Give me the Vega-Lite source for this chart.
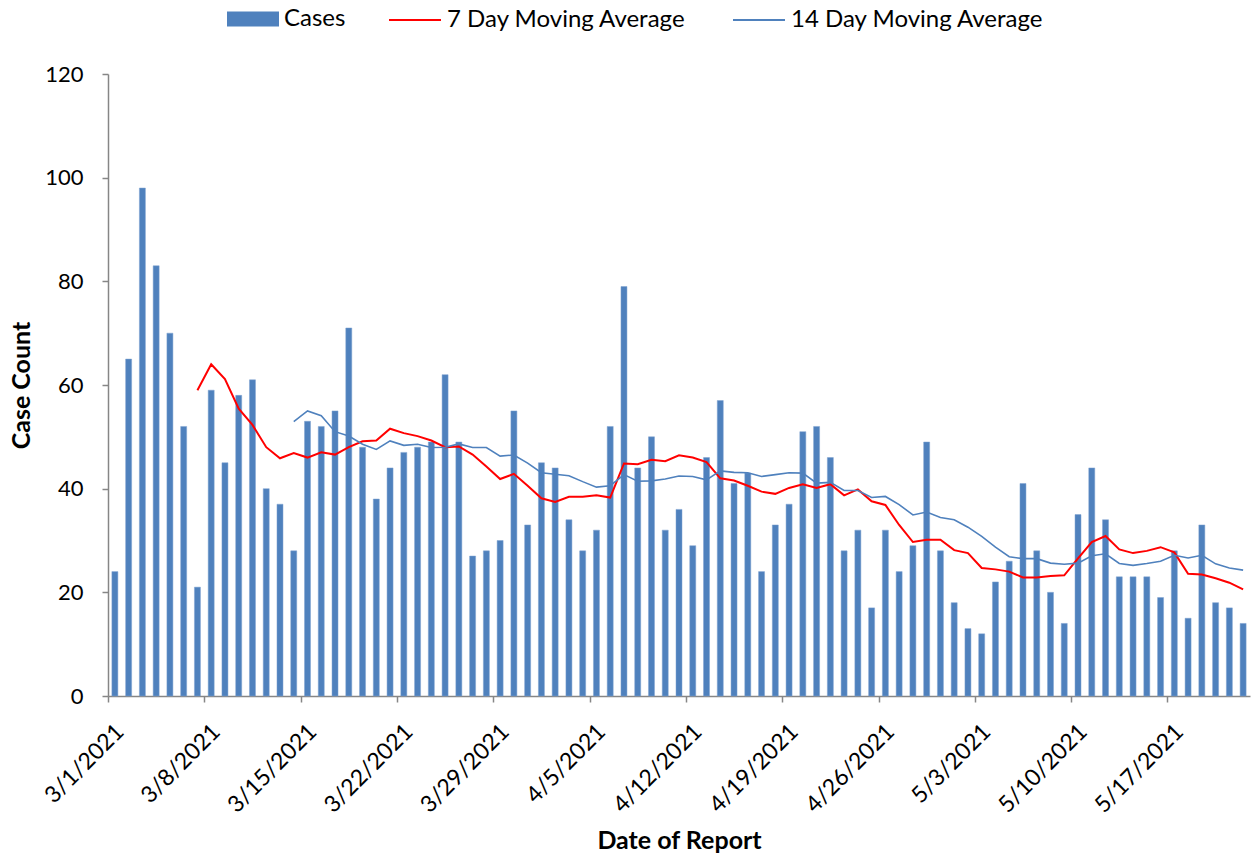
{
  "$schema": "https://vega.github.io/schema/vega-lite/v6.json",
  "width": 1142,
  "height": 622,
  "autosize": {"type": "none"},
  "padding": {"left": 108, "top": 74, "right": 4, "bottom": 163},
  "background": "white",
  "config": {
    "view": {"stroke": null},
    "font": "Lato",
    "axis": {"labelFont": "Lato", "titleFont": "Lato", "labelColor": "#000000", "titleColor": "#000000", "domainColor": "#868686", "tickColor": "#868686", "domainWidth": 1.5, "tickWidth": 1.5, "grid": false},
    "legend": {"labelFont": "Lato", "labelFontSize": 24, "labelColor": "#000000", "labelLimit": 500, "labelOffset": 5, "title": null}
  },
  "data": {
    "values": [
      {"date": "2021-03-01", "cases": 24, "ma7": null, "ma14": null},
      {"date": "2021-03-02", "cases": 65, "ma7": null, "ma14": null},
      {"date": "2021-03-03", "cases": 98, "ma7": null, "ma14": null},
      {"date": "2021-03-04", "cases": 83, "ma7": null, "ma14": null},
      {"date": "2021-03-05", "cases": 70, "ma7": null, "ma14": null},
      {"date": "2021-03-06", "cases": 52, "ma7": null, "ma14": null},
      {"date": "2021-03-07", "cases": 21, "ma7": 59.0, "ma14": null},
      {"date": "2021-03-08", "cases": 59, "ma7": 64.0, "ma14": null},
      {"date": "2021-03-09", "cases": 45, "ma7": 61.14, "ma14": null},
      {"date": "2021-03-10", "cases": 58, "ma7": 55.43, "ma14": null},
      {"date": "2021-03-11", "cases": 61, "ma7": 52.29, "ma14": null},
      {"date": "2021-03-12", "cases": 40, "ma7": 48.0, "ma14": null},
      {"date": "2021-03-13", "cases": 37, "ma7": 45.86, "ma14": null},
      {"date": "2021-03-14", "cases": 28, "ma7": 46.86, "ma14": 52.93},
      {"date": "2021-03-15", "cases": 53, "ma7": 46.0, "ma14": 55.0},
      {"date": "2021-03-16", "cases": 52, "ma7": 47.0, "ma14": 54.07},
      {"date": "2021-03-17", "cases": 55, "ma7": 46.57, "ma14": 51.0},
      {"date": "2021-03-18", "cases": 71, "ma7": 48.0, "ma14": 50.14},
      {"date": "2021-03-19", "cases": 48, "ma7": 49.14, "ma14": 48.57},
      {"date": "2021-03-20", "cases": 38, "ma7": 49.29, "ma14": 47.57},
      {"date": "2021-03-21", "cases": 44, "ma7": 51.57, "ma14": 49.21},
      {"date": "2021-03-22", "cases": 47, "ma7": 50.71, "ma14": 48.36},
      {"date": "2021-03-23", "cases": 48, "ma7": 50.14, "ma14": 48.57},
      {"date": "2021-03-24", "cases": 49, "ma7": 49.29, "ma14": 47.93},
      {"date": "2021-03-25", "cases": 62, "ma7": 48.0, "ma14": 48.0},
      {"date": "2021-03-26", "cases": 49, "ma7": 48.14, "ma14": 48.64},
      {"date": "2021-03-27", "cases": 27, "ma7": 46.57, "ma14": 47.93},
      {"date": "2021-03-28", "cases": 28, "ma7": 44.29, "ma14": 47.93},
      {"date": "2021-03-29", "cases": 30, "ma7": 41.86, "ma14": 46.29},
      {"date": "2021-03-30", "cases": 55, "ma7": 42.86, "ma14": 46.5},
      {"date": "2021-03-31", "cases": 33, "ma7": 40.57, "ma14": 44.93},
      {"date": "2021-04-01", "cases": 45, "ma7": 38.14, "ma14": 43.07},
      {"date": "2021-04-02", "cases": 44, "ma7": 37.43, "ma14": 42.79},
      {"date": "2021-04-03", "cases": 34, "ma7": 38.43, "ma14": 42.5},
      {"date": "2021-04-04", "cases": 28, "ma7": 38.43, "ma14": 41.36},
      {"date": "2021-04-05", "cases": 32, "ma7": 38.71, "ma14": 40.29},
      {"date": "2021-04-06", "cases": 52, "ma7": 38.29, "ma14": 40.57},
      {"date": "2021-04-07", "cases": 79, "ma7": 44.86, "ma14": 42.71},
      {"date": "2021-04-08", "cases": 44, "ma7": 44.71, "ma14": 41.43},
      {"date": "2021-04-09", "cases": 50, "ma7": 45.57, "ma14": 41.5},
      {"date": "2021-04-10", "cases": 32, "ma7": 45.29, "ma14": 41.86},
      {"date": "2021-04-11", "cases": 36, "ma7": 46.43, "ma14": 42.43},
      {"date": "2021-04-12", "cases": 29, "ma7": 46.0, "ma14": 42.36},
      {"date": "2021-04-13", "cases": 46, "ma7": 45.14, "ma14": 41.71},
      {"date": "2021-04-14", "cases": 57, "ma7": 42.0, "ma14": 43.43},
      {"date": "2021-04-15", "cases": 41, "ma7": 41.57, "ma14": 43.14},
      {"date": "2021-04-16", "cases": 43, "ma7": 40.57, "ma14": 43.07},
      {"date": "2021-04-17", "cases": 24, "ma7": 39.43, "ma14": 42.36},
      {"date": "2021-04-18", "cases": 33, "ma7": 39.0, "ma14": 42.71},
      {"date": "2021-04-19", "cases": 37, "ma7": 40.14, "ma14": 43.07},
      {"date": "2021-04-20", "cases": 51, "ma7": 40.86, "ma14": 43.0},
      {"date": "2021-04-21", "cases": 52, "ma7": 40.14, "ma14": 41.07},
      {"date": "2021-04-22", "cases": 46, "ma7": 40.86, "ma14": 41.21},
      {"date": "2021-04-23", "cases": 28, "ma7": 38.71, "ma14": 39.64},
      {"date": "2021-04-24", "cases": 32, "ma7": 39.86, "ma14": 39.64},
      {"date": "2021-04-25", "cases": 17, "ma7": 37.57, "ma14": 38.29},
      {"date": "2021-04-26", "cases": 32, "ma7": 36.86, "ma14": 38.5},
      {"date": "2021-04-27", "cases": 24, "ma7": 33.0, "ma14": 36.93},
      {"date": "2021-04-28", "cases": 29, "ma7": 29.71, "ma14": 34.93},
      {"date": "2021-04-29", "cases": 49, "ma7": 30.14, "ma14": 35.5},
      {"date": "2021-04-30", "cases": 28, "ma7": 30.14, "ma14": 34.43},
      {"date": "2021-05-01", "cases": 18, "ma7": 28.14, "ma14": 34.0},
      {"date": "2021-05-02", "cases": 13, "ma7": 27.57, "ma14": 32.57},
      {"date": "2021-05-03", "cases": 12, "ma7": 24.71, "ma14": 30.79},
      {"date": "2021-05-04", "cases": 22, "ma7": 24.43, "ma14": 28.71},
      {"date": "2021-05-05", "cases": 26, "ma7": 24.0, "ma14": 26.86},
      {"date": "2021-05-06", "cases": 41, "ma7": 22.86, "ma14": 26.5},
      {"date": "2021-05-07", "cases": 28, "ma7": 22.86, "ma14": 26.5},
      {"date": "2021-05-08", "cases": 20, "ma7": 23.14, "ma14": 25.64},
      {"date": "2021-05-09", "cases": 14, "ma7": 23.29, "ma14": 25.43},
      {"date": "2021-05-10", "cases": 35, "ma7": 26.57, "ma14": 25.64},
      {"date": "2021-05-11", "cases": 44, "ma7": 29.71, "ma14": 27.07},
      {"date": "2021-05-12", "cases": 34, "ma7": 30.86, "ma14": 27.43},
      {"date": "2021-05-13", "cases": 23, "ma7": 28.29, "ma14": 25.57},
      {"date": "2021-05-14", "cases": 23, "ma7": 27.57, "ma14": 25.21},
      {"date": "2021-05-15", "cases": 23, "ma7": 28.0, "ma14": 25.57},
      {"date": "2021-05-16", "cases": 19, "ma7": 28.71, "ma14": 26.0},
      {"date": "2021-05-17", "cases": 28, "ma7": 27.71, "ma14": 27.14},
      {"date": "2021-05-18", "cases": 15, "ma7": 23.57, "ma14": 26.64},
      {"date": "2021-05-19", "cases": 33, "ma7": 23.43, "ma14": 27.14},
      {"date": "2021-05-20", "cases": 18, "ma7": 22.71, "ma14": 25.5},
      {"date": "2021-05-21", "cases": 17, "ma7": 21.86, "ma14": 24.71},
      {"date": "2021-05-22", "cases": 14, "ma7": 20.57, "ma14": 24.29}
    ]
  },
  "layer": [
    {
      "mark": {"type": "bar", "width": 6, "stroke": "#7FA3D1", "strokeWidth": 0.5},
      "encoding": {
        "x": {
          "field": "date",
          "type": "temporal",
          "timeUnit": "utcyearmonthdate",
          "bandPosition": 0.5,
          "scale": {"domain": [{"year": 2021, "month": 3, "date": 1, "utc": true}, {"year": 2021, "month": 5, "date": 23, "utc": true}]},
          "axis": {
            "title": "Date of Report",
            "titleFontSize": 25,
            "titleFontWeight": "bold",
            "titlePadding": 12,
            "labelFontSize": 23,
            "labelAngle": -45,
            "labelOffset": 4,
            "labelPadding": 18,
            "labelExpr": "utcFormat(datum.value, '%-m/%-d/%Y')",
            "tickSize": 6,
            "labelOverlap": false,
            "values": [
              {"year": 2021, "month": 3, "date": 1, "utc": true},
              {"year": 2021, "month": 3, "date": 8, "utc": true},
              {"year": 2021, "month": 3, "date": 15, "utc": true},
              {"year": 2021, "month": 3, "date": 22, "utc": true},
              {"year": 2021, "month": 3, "date": 29, "utc": true},
              {"year": 2021, "month": 4, "date": 5, "utc": true},
              {"year": 2021, "month": 4, "date": 12, "utc": true},
              {"year": 2021, "month": 4, "date": 19, "utc": true},
              {"year": 2021, "month": 4, "date": 26, "utc": true},
              {"year": 2021, "month": 5, "date": 3, "utc": true},
              {"year": 2021, "month": 5, "date": 10, "utc": true},
              {"year": 2021, "month": 5, "date": 17, "utc": true}
            ]
          }
        },
        "y": {
          "field": "cases",
          "type": "quantitative",
          "scale": {"domain": [0, 120]},
          "axis": {"title": "Case Count", "titleFontSize": 25, "titleFontWeight": "bold", "titlePadding": 10, "labelFontSize": 22, "values": [0, 20, 40, 60, 80, 100, 120], "tickSize": 6, "labelPadding": 19}
        },
        "fill": {
          "datum": "Cases",
          "type": "nominal",
          "scale": {"domain": ["Cases"], "range": ["#4F81BD"]},
          "legend": {
            "orient": "none",
            "legendX": 119,
            "legendY": -81,
            "direction": "horizontal",
            "symbolType": "M-1,-0.29L1,-0.29L1,0.29L-1,0.29Z",
            "symbolSize": 2704,
            "symbolStrokeWidth": 0
          }
        }
      }
    },
    {
      "mark": {"type": "line", "strokeWidth": 2},
      "encoding": {
        "x": {"field": "date", "type": "temporal", "timeUnit": "utcyearmonthdate", "bandPosition": 0.5},
        "y": {"field": "ma7", "type": "quantitative"},
        "stroke": {
          "datum": "7 Day Moving Average",
          "type": "nominal",
          "scale": {"domain": ["7 Day Moving Average", "14 Day Moving Average"], "range": ["#FF0000", "#4F81BD"]},
          "legend": {
            "orient": "none",
            "legendX": 280,
            "legendY": -81,
            "direction": "horizontal",
            "symbolType": "stroke",
            "symbolSize": 2704,
            "symbolStrokeWidth": 2,
            "columnPadding": 43
          }
        }
      }
    },
    {
      "mark": {"type": "line", "strokeWidth": 1.6},
      "encoding": {
        "x": {"field": "date", "type": "temporal", "timeUnit": "utcyearmonthdate", "bandPosition": 0.5},
        "y": {"field": "ma14", "type": "quantitative"},
        "stroke": {"datum": "14 Day Moving Average", "type": "nominal"}
      }
    }
  ]
}
